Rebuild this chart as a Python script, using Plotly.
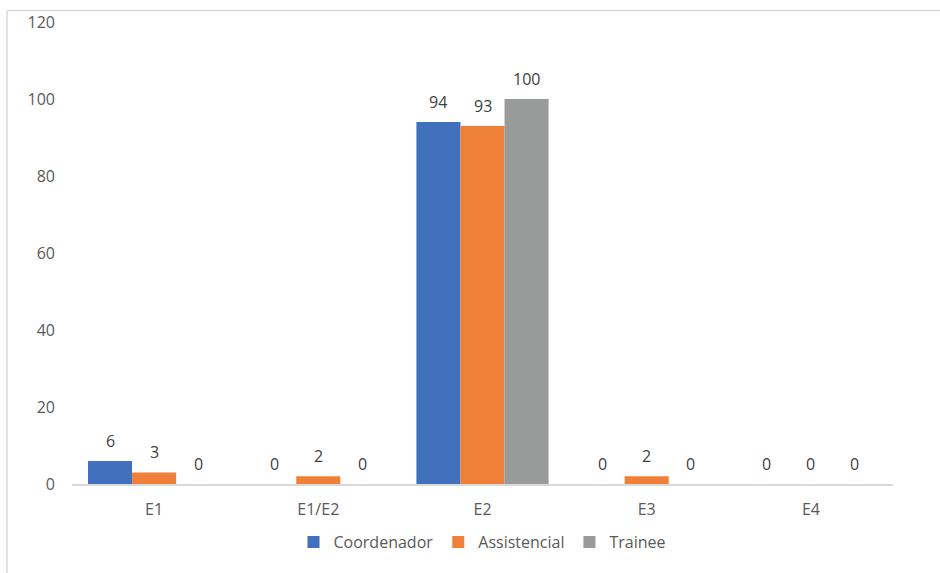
import plotly.graph_objects as go

categories = ["E1", "E1/E2", "E2", "E3", "E4"]
coordenador = [6, 0, 94, 0, 0]
assistencial = [3, 2, 93, 2, 0]
trainee = [0, 0, 100, 0, 0]
series_names = ["Coordenador", "Assistencial", "Trainee"]
colors = ["#4170BD", "#EF8038", "#999B9B"]

FONT = "Open Sans"
L, R, T, B = 72, 47, 22, 89
W, H = 940, 573
pw, ph = W - L - R, H - T - B
BARGAP = 0.195
bar_px = pw / len(categories) * (1 - BARGAP) / len(series_names)

fig = go.Figure()
for i, (name, vals, col) in enumerate(zip(series_names, [coordenador, assistencial, trainee], colors)):
    fig.add_trace(go.Bar(
        x=categories, y=vals, name=name, marker_color=col, marker_line_width=0,
    ))
    for c, v in zip(categories, vals):
        fig.add_annotation(x=c, y=v, text=str(v), showarrow=False,
                           xshift=(i - 1) * bar_px, yshift=20, yanchor="middle",
                           font=dict(family=FONT, size=16, color="#404040"))

fig.update_layout(
    width=W, height=H,
    margin=dict(l=L, r=R, t=T, b=B),
    paper_bgcolor="white", plot_bgcolor="white",
    barmode="group", bargap=BARGAP, bargroupgap=0,
    font=dict(family=FONT, size=14, color="#595959"),
    showlegend=True,
    legend=dict(orientation="h", x=0.5, xanchor="center", y=-0.126, yanchor="middle",
                font=dict(family=FONT, size=16, color="#595959"), itemwidth=30,
                traceorder="normal"),
    xaxis=dict(showline=True, linecolor="#D9D9D9", linewidth=1.5, showgrid=False,
               ticks="", tickfont=dict(family=FONT, size=16, color="#595959"),
               ticklabelstandoff=10),
    yaxis=dict(range=[0, 120], dtick=20, showgrid=False, zeroline=False, showline=False,
               ticks="", tickfont=dict(family=FONT, size=16, color="#595959"),
               ticklabelstandoff=16),
)

# chart border (top and left visible)
x_left = (7 - L) / pw
y_top = (H - B - 10.5) / ph
fig.add_shape(type="line", xref="paper", yref="paper", x0=x_left, x1=(W - L + 5) / pw,
              y0=y_top, y1=y_top, line=dict(color="#D9D9D9", width=1.5))
fig.add_shape(type="line", xref="paper", yref="paper", x0=x_left, x1=x_left,
              y0=y_top, y1=-(B + 5) / ph, line=dict(color="#D9D9D9", width=1.5))

fig.write_html("out.html")
